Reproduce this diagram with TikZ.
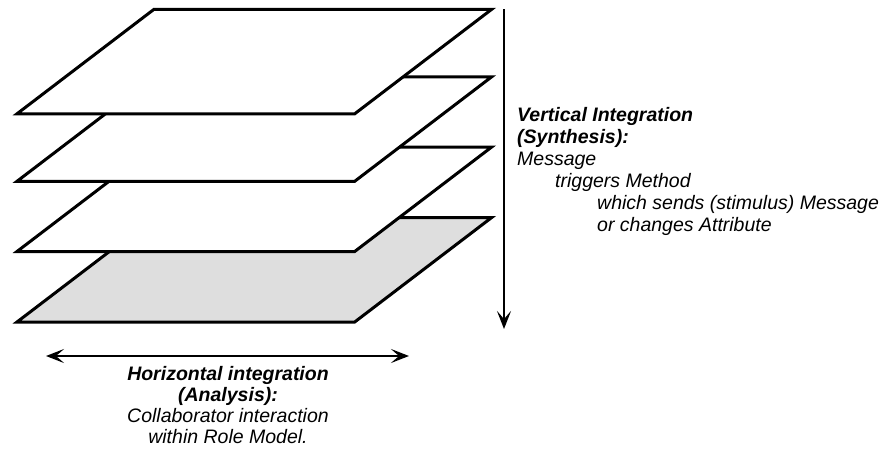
\documentclass[tikz,border=0pt]{standalone}
\usepackage{fontspec}
\setmainfont{Liberation Sans}
\usetikzlibrary{arrows.meta}
\definecolor{planegray}{RGB}{222,222,222}
\begin{document}
\begin{tikzpicture}[x=1pt,y=-1pt,
  plane/.style={draw=black, line width=3pt, line join=miter},
  tip/.tip={Stealth[length=18pt,width=14pt,inset=8pt]},
  axis/.style={line width=2.8pt, tip-tip},
  downaxis/.style={line width=2.8pt, -tip},
  lbl/.style={inner sep=0pt, font=\fontsize{19.5}{22}\selectfont\itshape},
  head/.style={lbl, font=\fontsize{19.5}{22}\selectfont\bfseries\itshape}
]
\useasboundingbox (0,0) rectangle (889,450);

% stacked layers, drawn bottom-up so each one covers the one below
\foreach \t/\c in {217.5/planegray, 147/white, 76.8/white, 9.3/white}{
  \draw[plane, fill=\c] (17,{\t+104.5}) -- (154,\t) -- (491.7,\t) -- (354.7,{\t+104.5}) -- cycle;
}

% vertical axis
\coordinate (vtop) at (504,9);
\coordinate (vbot) at (504,329);
\draw[downaxis] (vtop) -- (vbot);

% horizontal axis
\coordinate (hleft) at (46,356);
\coordinate (hright) at (409,356);
\draw[axis] (hleft) -- (hright);

% vertical integration text
\node[head, anchor=base west] (v1) at (517,121) {Vertical Integration};
\node[head, anchor=base west] (v2) at (517,143) {(Synthesis):};
\node[lbl, anchor=base west] (v3) at (517,165) {Message};
\node[lbl, anchor=base west] (v4) at (555,187) {triggers Method};
\node[lbl, anchor=base west] (v5) at (597,209) {which sends (stimulus) Message};
\node[lbl, anchor=base west] (v6) at (597,231) {or changes Attribute};

% horizontal integration text
\node[head, anchor=base] (h1) at (228,380.5) {Horizontal integration};
\node[head, anchor=base] (h2) at (228,401.5) {(Analysis):};
\node[lbl, anchor=base] (h3) at (228,422.5) {Collaborator interaction};
\node[lbl, anchor=base] (h4) at (228,443.5) {within Role Model.};
\end{tikzpicture}
\end{document}
